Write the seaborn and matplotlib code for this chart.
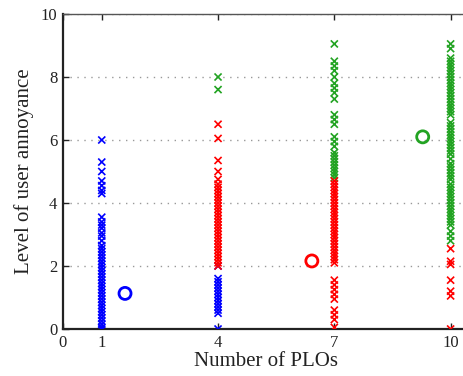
import numpy as np
import pandas as pd
import matplotlib
matplotlib.use("Agg")
import matplotlib.pyplot as plt
import seaborn as sns

# ---- data ----
blue_1 = [6.0, 5.3, 5.0, 4.7, 4.55, 4.4, 4.3, 3.55, 3.4, 3.3, 3.2, 3.05, 2.95, 2.8,
          2.65, 2.55, 2.45, 2.35, 2.25, 2.15, 2.05, 1.95, 1.85, 1.75, 1.65, 1.55,
          1.45, 1.35, 1.25, 1.15, 1.05, 0.95, 0.85, 0.75, 0.65, 0.55, 0.45, 0.35,
          0.25, 0.15, 0.05, 0.0]
blue_4 = [2.0, 1.6, 1.5, 1.4, 1.3, 1.2, 1.1, 1.0, 0.9, 0.8, 0.7, 0.6, 0.5, 0.0]
red_4 = [6.5, 6.05, 5.35, 5.0, 4.75, 4.6, 4.5, 4.4, 4.3, 4.2, 4.1, 4.0, 3.9, 3.8,
         3.7, 3.6, 3.5, 3.4, 3.3, 3.2, 3.1, 3.0, 2.9, 2.8, 2.7, 2.6, 2.5, 2.4, 2.3,
         2.2, 2.1, 2.0]
green_4 = [8.0, 7.6]
green_7 = [9.05, 8.5, 8.35, 8.2, 8.0, 7.8, 7.65, 7.5, 7.3, 6.8, 6.65, 6.5, 6.1,
           5.95, 5.8, 5.6, 5.5, 5.4, 5.3, 5.2, 5.1, 5.0, 4.9, 4.8]
red_7 = [4.7, 4.6, 4.5, 4.4, 4.3, 4.2, 4.1, 4.0, 3.9, 3.8, 3.7, 3.6, 3.5, 3.4, 3.3,
         3.2, 3.1, 3.0, 2.9, 2.8, 2.7, 2.6, 2.5, 2.4, 2.3, 2.2, 2.1, 1.55, 1.4,
         1.25, 1.1, 0.95, 0.6, 0.45, 0.3, 0.05]
green_10 = [9.05, 8.9, 8.6, 8.5, 8.4, 8.3, 8.2, 8.1, 8.0, 7.9, 7.8, 7.7, 7.6, 7.5,
            7.4, 7.3, 7.2, 7.1, 7.0, 6.9, 6.8, 6.55, 6.45, 6.35, 6.25, 6.15, 6.05,
            5.95, 5.85, 5.75, 5.65, 5.55, 5.4, 5.25, 5.15, 5.05, 4.95, 4.85, 4.75,
            4.6, 4.5, 4.4, 4.3, 4.2, 4.1, 4.0, 3.9, 3.8, 3.7, 3.6, 3.5, 3.4, 3.3,
            3.1, 2.95, 2.8]
red_10 = [2.55, 2.15, 2.05, 1.55, 1.2, 1.05, 0.0]

mean_x = [1.6, 6.42, 9.28]
mean_y = [1.13, 2.16, 6.1]
mean_group = ["blue", "red", "green"]

x_ticks = [0, 1, 4, 7, 10]
y_ticks = [0, 2, 4, 6, 8, 10]

colors = {"blue": "#0000ff", "red": "#ff0000", "green": "#22a322"}

# ---- build long-form table ----
rows = []
for x, vals, g in [(1, blue_1, "blue"), (4, blue_4, "blue"), (4, red_4, "red"),
                   (4, green_4, "green"), (7, green_7, "green"), (7, red_7, "red"),
                   (10, green_10, "green"), (10, red_10, "red")]:
    for v in vals:
        rows.append({"plos": x, "annoy": v, "group": g})
df = pd.DataFrame(rows)
means = pd.DataFrame({"plos": mean_x, "annoy": mean_y, "group": mean_group})

sns.set_style("white")
plt.rcParams["font.family"] = ["Liberation Serif", "DejaVu Serif"]

fig = plt.figure(figsize=(4.64, 3.76), dpi=100)
ax = fig.add_axes([63 / 464, 47 / 376, (470 - 63) / 464, (329 - 14) / 376])

sns.scatterplot(data=df, x="plos", y="annoy", hue="group", palette=colors,
                marker="x", s=26, linewidth=1.2, legend=False, ax=ax, zorder=3)
for _, r in means.iterrows():
    ax.scatter([r["plos"]], [r["annoy"]], marker="o", s=75, facecolors="none",
               edgecolors=colors[r["group"]], linewidths=2.0, zorder=4)

ax.set_xlim(0, 10.5)
ax.set_ylim(0, 10)
ax.set_xticks(x_ticks)
ax.set_yticks(y_ticks)
ax.set_xticklabels([str(t) for t in x_ticks], fontsize=12)
ax.set_yticklabels([str(t) for t in y_ticks], fontsize=12)
ax.tick_params(direction="in", length=4, width=1, colors="#222222",
               top=True, right=False, bottom=True, left=True, pad=4)
ax.yaxis.grid(True, linestyle=(0, (1, 4)), color="#999999", linewidth=1)
ax.xaxis.grid(False)
ax.set_axisbelow(True)
for s in ["left", "bottom"]:
    ax.spines[s].set_linewidth(1.6)
    ax.spines[s].set_color("#222222")
ax.spines["top"].set_linewidth(1.0)
ax.spines["top"].set_color("#555555")
ax.spines["right"].set_visible(False)

ax.set_xlabel("Number of PLOs", fontsize=15, color="#222222", labelpad=1)
ax.set_ylabel("Level of user annoyance", fontsize=15, color="#222222", labelpad=5)

fig.savefig("out.png", dpi=100)
